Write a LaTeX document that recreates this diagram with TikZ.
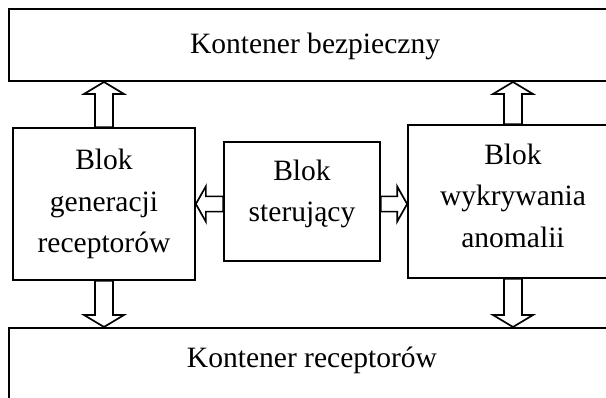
\documentclass[tikz,border=0pt]{standalone}
\usepackage{fontspec}
\setmainfont{Liberation Serif}
\usetikzlibrary{calc,positioning}
\tikzset{
  blk/.style={draw, line width=1.2pt, align=center, inner sep=0pt, font=\fontsize{21}{29.5}\selectfont},
  cont/.style={draw, line width=1.2pt, inner sep=0pt},
  ctxt/.style={anchor=base, font=\fontsize{21}{25}\selectfont},
  fat/.style n args={3}{draw, line width=1.2pt, fill=white, to path={
    ($(\tikztotarget)!#3!(\tikztostart)$) coordinate (fb)
    ($(\tikztostart)!#1!90:(\tikztotarget)$) -- ($(fb)!#1!-90:(\tikztostart)$)
    -- ($(fb)!#2!-90:(\tikztostart)$) -- (\tikztotarget)
    -- ($(fb)!#2!90:(\tikztostart)$) -- ($(fb)!#1!90:(\tikztostart)$)
    -- ($(\tikztostart)!#1!-90:(\tikztotarget)$) -- cycle}},
  fatv/.style={fat={0.225cm}{0.5cm}{0.3cm}},
  fath/.style={fat={0.19cm}{0.44cm}{0.25cm}}
}
\begin{document}
\begin{tikzpicture}
\path[use as bounding box, clip] (0,0) rectangle (15.15,9.925);
% containers
\node[cont, minimum width=16cm, minimum height=1.8cm, anchor=south west] (bezp) at (0.21,7.875) {};
\node[ctxt] (bezpT) at (7.875,8.575) {Kontener bezpieczny};
\node[cont, minimum width=16cm, minimum height=3cm, anchor=north west] (rec) at (0.21,1.75) {};
\node[ctxt] (recT) at (7.8,0.725) {Kontener receptorów};
% blocks
\node[blk, minimum width=4.55cm, minimum height=3.8cm] (gen) at (2.6,4.825) {Blok\\generacji\\receptorów};
\node[blk, minimum width=3.9cm, minimum height=2.975cm, text depth=0.55cm] (ster) at (7.55,4.8875) {Blok\\sterujący};
\node[blk, minimum width=5.25cm, minimum height=3.825cm, text depth=0.3cm] (wykr) at (12.825,4.8875) {Blok\\wykrywania\\anomalii};
% arrows
\draw[fatv] (gen.north) to (bezp.south -| gen.north);
\draw[fatv] (wykr.north) to (bezp.south -| wykr.north);
\draw[fatv] (gen.south) to (rec.north -| gen.south);
\draw[fatv] (wykr.south) to (rec.north -| wykr.south);
\draw[fath] (ster.west |- gen.east) to (gen.east);
\draw[fath] (ster.east |- gen.east) to (wykr.west |- gen.east);
\end{tikzpicture}
\end{document}
